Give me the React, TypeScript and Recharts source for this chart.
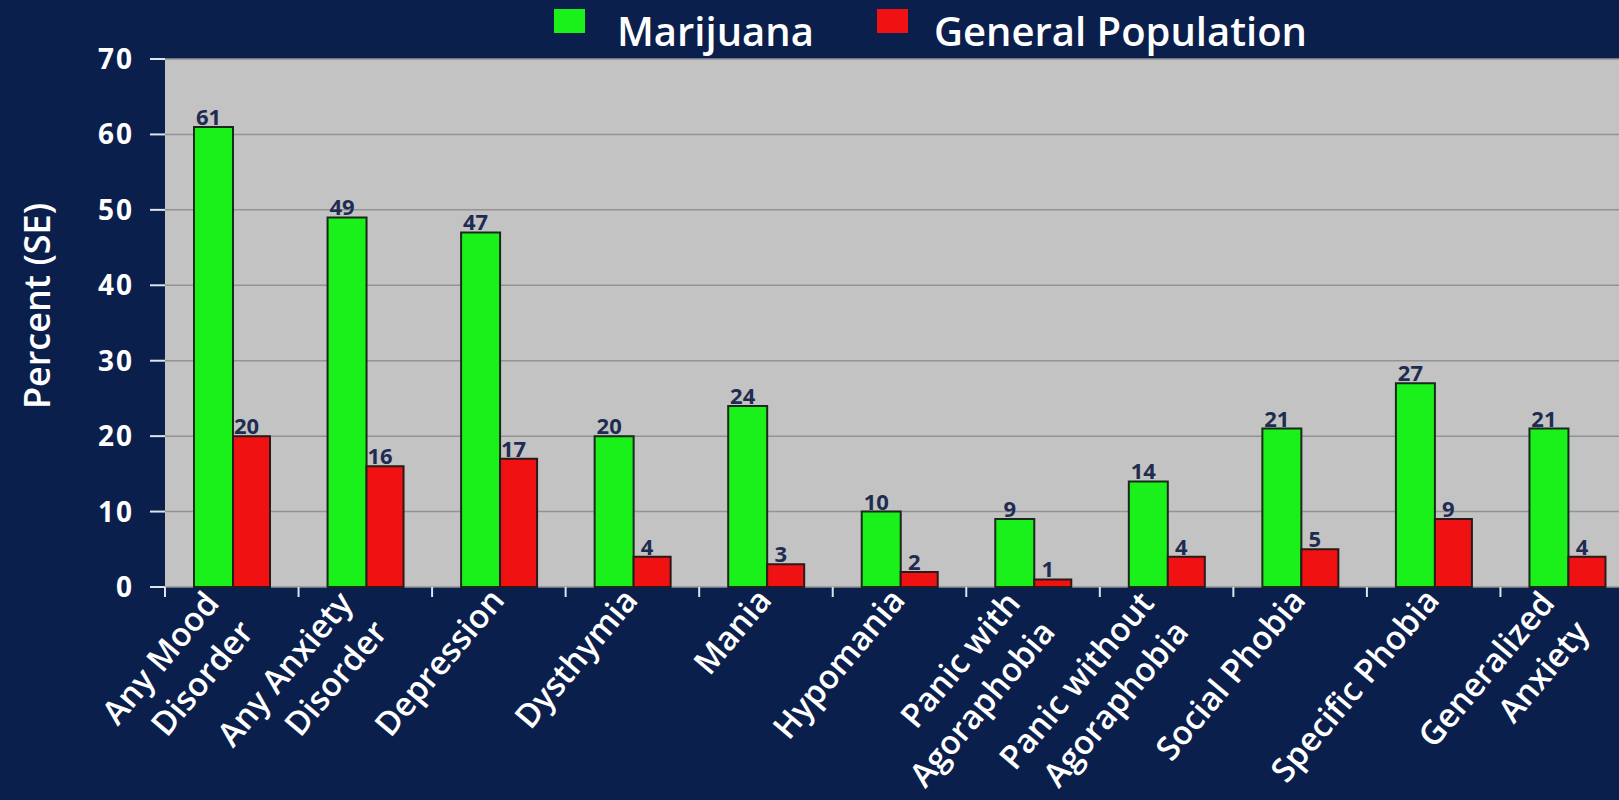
import React from 'react';
import { BarChart, Bar, XAxis, YAxis, CartesianGrid, LabelList } from 'recharts';

const categories = [
  'Any Mood\nDisorder',
  'Any Anxiety\nDisorder',
  'Depression',
  'Dysthymia',
  'Mania',
  'Hypomania',
  'Panic with\nAgoraphobia',
  'Panic without\nAgoraphobia',
  'Social Phobia',
  'Specific Phobia',
  'Generalized\nAnxiety',
];
const marijuana = [61, 49, 47, 20, 24, 10, 9, 14, 21, 27, 21];
const generalPopulation = [20, 16, 17, 4, 3, 2, 1, 4, 5, 9, 4];
const yTicks = [0, 10, 20, 30, 40, 50, 60, 70];
const seriesNames = ['Marijuana', 'General Population'];
const seriesColors = ['#1af01a', '#f01212'];
const yLabel = 'Percent (SE)';

const data = categories.map((name, i) => ({
  name,
  marijuana: marijuana[i],
  general: generalPopulation[i],
}));

const NAVY = '#0b1f4d';
const FONT = "'Open Sans', sans-serif";
const ANGLE = 50;

const XTick = (props: any) => {
  const { x, y, payload, width, visibleTicksCount } = props;
  const half =
    payload && typeof payload.offset === 'number' && payload.offset > 0
      ? payload.offset
      : width / (visibleTicksCount || 1) / 2;
  const lines = String(payload.value).split('\n');
  const rad = (ANGLE * Math.PI) / 180;
  const lh = 45;
  const base =
    lines.length > 1 ? { ex: x - 11, ey: y + 17 } : { ex: x + 7, ey: y + 14 };
  return (
    <g>
      <line x1={x - half} y1={y} x2={x - half} y2={y + 10} stroke="#dfe3ee" strokeWidth={2} />
      {lines.map((l, i) => {
        const ex = base.ex + i * lh * Math.sin(rad);
        const ey = base.ey + i * lh * Math.cos(rad);
        return (
          <text
            key={i}
            transform={`translate(${ex},${ey}) rotate(-${ANGLE})`}
            textAnchor="end"
            fill="#ffffff"
            fontSize={33}
            fontWeight={600}
            fontFamily={FONT}
          >
            {l}
          </text>
        );
      })}
    </g>
  );
};

const YLabel = (props: any) => {
  const vb = props.viewBox || { x: 0, y: 0, width: 0, height: 0 };
  const cx = vb.x + 36;
  const cy = vb.y + vb.height / 2 - 17;
  return (
    <text
      x={cx}
      y={cy}
      transform={`rotate(-90, ${cx}, ${cy})`}
      textAnchor="middle"
      dominantBaseline="central"
      fill="#ffffff"
      fontSize={36}
      fontWeight={600}
      fontFamily={FONT}
    >
      {yLabel}
    </text>
  );
};

const legendLayout = [
  { rx: 554, tx: 617 },
  { rx: 877, tx: 934 },
];

const LegendOverlay = () => (
  <svg width={1619} height={60} style={{ position: 'absolute', left: 0, top: 0 }}>
    {seriesNames.map((n, i) => (
      <g key={n}>
        <rect x={legendLayout[i].rx} y={9} width={31} height={24} fill={seriesColors[i]} />
        <text
          x={legendLayout[i].tx}
          y={46}
          fill="#ffffff"
          fontSize={40}
          fontWeight={600}
          fontFamily={FONT}
        >
          {n}
        </text>
      </g>
    ))}
  </svg>
);

export default function App() {
  return (
    <div
      style={{
        position: 'absolute',
        left: 0,
        top: 0,
        width: 1619,
        height: 800,
        overflow: 'hidden',
        background: NAVY,
      }}
    >
      <BarChart
        width={1634}
        height={800}
        data={data}
        margin={{ top: 59, right: 0, left: 0, bottom: 0 }}
        barGap={0}
        barCategoryGap="21%"
      >
        <CartesianGrid vertical={false} stroke="#939393" strokeWidth={1.5} fill="#c3c3c3" />
        <XAxis
          dataKey="name"
          interval={0}
          tick={<XTick />}
          tickLine={false}
          axisLine={false}
          tickSize={0}
          tickMargin={0}
          height={213}
        />
        <YAxis
          domain={[0, 70]}
          ticks={yTicks}
          width={165}
          axisLine={false}
          tickLine={{ stroke: '#dfe3ee', strokeWidth: 2 }}
          tickSize={15}
          tickMargin={16}
          tick={{ fill: '#ffffff', fontSize: 28, fontWeight: 700, fontFamily: FONT, letterSpacing: 2 }}
          label={<YLabel />}
        />
        <Bar
          dataKey="marijuana"
          name={seriesNames[0]}
          fill={seriesColors[0]}
          stroke="#1a2a1a"
          strokeWidth={2}
          barSize={39}
          isAnimationActive={false}
        >
          <LabelList
            dataKey="marijuana"
            position="top"
            offset={2}
            dx={-5}
            fill="#1f2c52"
            fontSize={22}
            fontWeight={700}
            fontFamily={FONT}
          />
        </Bar>
        <Bar
          dataKey="general"
          name={seriesNames[1]}
          fill={seriesColors[1]}
          stroke="#2a1a1a"
          strokeWidth={2}
          barSize={37}
          isAnimationActive={false}
        >
          <LabelList
            dataKey="general"
            position="top"
            offset={2}
            dx={-5}
            fill="#1f2c52"
            fontSize={22}
            fontWeight={700}
            fontFamily={FONT}
          />
        </Bar>
      </BarChart>
      <LegendOverlay />
    </div>
  );
}
